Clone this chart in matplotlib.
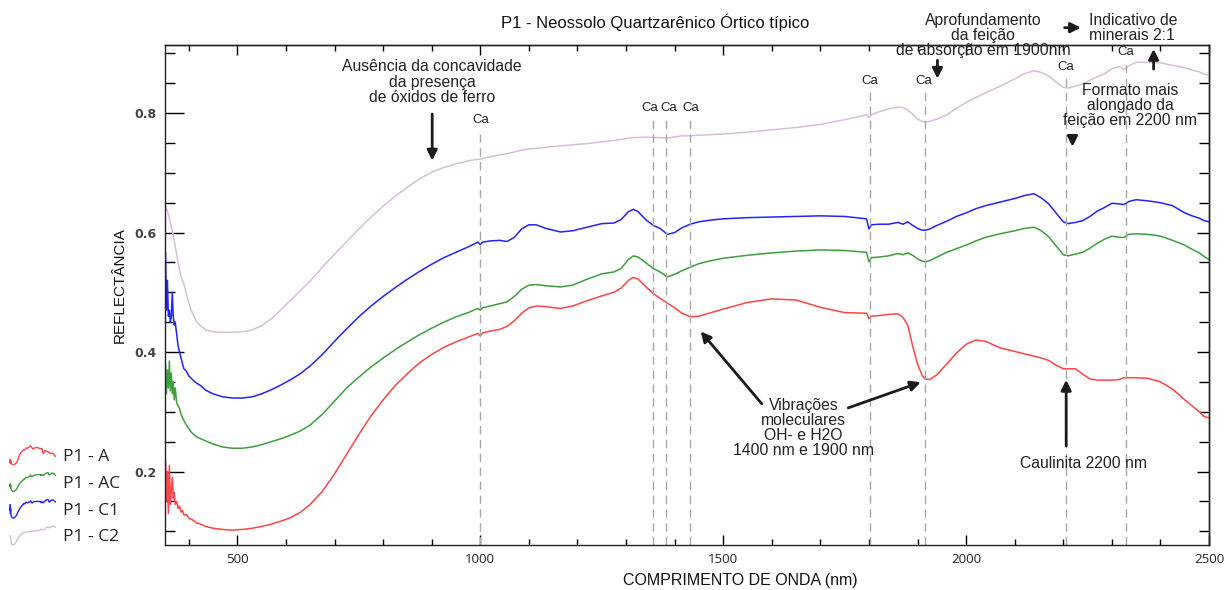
import numpy as np
import matplotlib
matplotlib.use('Agg')
import matplotlib.pyplot as plt
from matplotlib.ticker import MultipleLocator, NullFormatter
from matplotlib.legend_handler import HandlerBase
from matplotlib.lines import Line2D

plt.rcParams['font.family'] = ['Liberation Sans', 'DejaVu Sans']

# wavelength grid (nm)
wl = [350, 352, 354, 356, 358, 360, 362, 364, 366, 368, 370, 372, 375, 378, 381, 384, 387, 390,
      395, 400, 405, 410, 416, 424,
      435, 450, 470, 490, 510, 530, 550, 570, 590, 610, 630, 650, 675, 700, 725, 750, 775, 800,
      825, 850, 875, 900, 925, 950, 975, 995, 1000, 1005, 1020, 1040, 1055, 1070, 1085, 1100,
      1115, 1135, 1165, 1190, 1220, 1250, 1275, 1290, 1305, 1315, 1325, 1340, 1356, 1370, 1385,
      1400, 1415, 1432, 1450, 1475, 1500, 1550, 1600, 1650, 1700, 1750, 1795, 1800, 1805, 1820,
      1840, 1860, 1870, 1880, 1890, 1900, 1910, 1916, 1925, 1940, 1960, 1980, 2000, 2020, 2040,
      2070, 2100, 2120, 2140, 2155, 2170, 2185, 2200, 2210, 2225, 2240, 2255, 2270, 2285, 2300,
      2315, 2325, 2335, 2350, 2375, 2400, 2425, 2450, 2465, 2480, 2490, 2500]

p1_a = [0.14, 0.22, 0.15, 0.20, 0.13, 0.21, 0.145, 0.17, 0.19, 0.155, 0.165, 0.145, 0.15, 0.138,
        0.142, 0.132, 0.135, 0.127, 0.128, 0.122, 0.12, 0.118, 0.114, 0.112,
        0.108, 0.105, 0.103, 0.102, 0.103, 0.105, 0.108, 0.112, 0.117, 0.123, 0.132, 0.145, 0.167,
        0.196, 0.229, 0.262, 0.293, 0.32, 0.344, 0.364, 0.382, 0.396, 0.408, 0.417, 0.425, 0.431,
        0.427, 0.432, 0.435, 0.438, 0.443, 0.452, 0.465, 0.474, 0.477, 0.476, 0.473, 0.477, 0.486,
        0.494, 0.50, 0.507, 0.52, 0.525, 0.522, 0.51, 0.498, 0.49, 0.482, 0.474, 0.465, 0.459,
        0.46, 0.466, 0.472, 0.483, 0.489, 0.487, 0.475, 0.466, 0.465, 0.456, 0.46, 0.461, 0.463,
        0.464, 0.458, 0.445, 0.41, 0.38, 0.36, 0.355, 0.354, 0.362, 0.38, 0.398, 0.413, 0.42,
        0.418, 0.407, 0.401, 0.397, 0.393, 0.39, 0.386, 0.378, 0.372, 0.372, 0.372, 0.363, 0.355,
        0.353, 0.353, 0.353, 0.354, 0.357, 0.357, 0.357, 0.356, 0.35, 0.338, 0.32, 0.31, 0.30,
        0.292, 0.29]

p1_ac = [0.30, 0.38, 0.33, 0.37, 0.34, 0.385, 0.335, 0.365, 0.33, 0.35, 0.32, 0.34, 0.315, 0.31,
         0.305, 0.296, 0.29, 0.285, 0.278, 0.272, 0.266, 0.262, 0.258, 0.255,
         0.251, 0.246, 0.241, 0.239, 0.239, 0.241, 0.245, 0.25, 0.255, 0.261, 0.268, 0.278, 0.296,
         0.318, 0.34, 0.358, 0.375, 0.39, 0.404, 0.417, 0.429, 0.44, 0.45, 0.459, 0.466, 0.473,
         0.47, 0.474, 0.477, 0.481, 0.484, 0.493, 0.505, 0.512, 0.513, 0.511, 0.509, 0.512, 0.522,
         0.531, 0.534, 0.54, 0.555, 0.561, 0.559, 0.55, 0.54, 0.534, 0.526, 0.53, 0.536, 0.542,
         0.548, 0.553, 0.557, 0.562, 0.566, 0.569, 0.571, 0.57, 0.567, 0.551, 0.558, 0.559, 0.561,
         0.565, 0.563, 0.566, 0.562, 0.556, 0.552, 0.551, 0.553, 0.559, 0.567, 0.573, 0.579, 0.586,
         0.592, 0.598, 0.603, 0.607, 0.609, 0.603, 0.593, 0.578, 0.563, 0.561, 0.564, 0.567, 0.574,
         0.582, 0.589, 0.594, 0.592, 0.592, 0.597, 0.598, 0.597, 0.594, 0.587, 0.579, 0.572, 0.566,
         0.56, 0.555]

p1_c1 = [0.41, 0.567, 0.47, 0.52, 0.46, 0.47, 0.45, 0.46, 0.50, 0.46, 0.445, 0.45, 0.43, 0.41,
         0.40, 0.39, 0.38, 0.372, 0.368, 0.36, 0.356, 0.352, 0.348, 0.344,
         0.336, 0.33, 0.325, 0.323, 0.323, 0.325, 0.33, 0.337, 0.345, 0.354, 0.364, 0.377, 0.396,
         0.418, 0.439, 0.459, 0.477, 0.493, 0.508, 0.522, 0.535, 0.547, 0.558, 0.567, 0.576, 0.584,
         0.58, 0.584, 0.586, 0.587, 0.585, 0.592, 0.606, 0.613, 0.613, 0.607, 0.601, 0.603, 0.609,
         0.615, 0.616, 0.622, 0.635, 0.639, 0.635, 0.622, 0.612, 0.607, 0.597, 0.60, 0.608, 0.614,
         0.618, 0.621, 0.623, 0.625, 0.626, 0.627, 0.628, 0.627, 0.623, 0.606, 0.613, 0.614, 0.614,
         0.617, 0.614, 0.618, 0.612, 0.607, 0.604, 0.604, 0.606, 0.612, 0.619, 0.627, 0.633, 0.64,
         0.645, 0.651, 0.657, 0.662, 0.665, 0.658, 0.648, 0.633, 0.618, 0.615, 0.617, 0.62, 0.627,
         0.636, 0.642, 0.649, 0.648, 0.647, 0.652, 0.655, 0.653, 0.65, 0.645, 0.633, 0.628, 0.624,
         0.62, 0.618]

p1_c2 = [0.649, 0.645, 0.64, 0.636, 0.63, 0.624, 0.617, 0.61, 0.603, 0.595, 0.586, 0.577, 0.563,
         0.55, 0.537, 0.527, 0.52, 0.514, 0.497, 0.482, 0.47, 0.461, 0.451, 0.444,
         0.437, 0.434, 0.433, 0.433, 0.434, 0.437, 0.444, 0.456, 0.471, 0.487, 0.503, 0.519, 0.542,
         0.564, 0.585, 0.606, 0.626, 0.644, 0.661, 0.676, 0.69, 0.701, 0.709, 0.715, 0.72, 0.723,
         0.722, 0.724, 0.727, 0.73, 0.732, 0.735, 0.738, 0.74, 0.741, 0.743, 0.745, 0.747, 0.749,
         0.752, 0.754, 0.756, 0.758, 0.759, 0.759, 0.76, 0.759, 0.759, 0.758, 0.76, 0.762, 0.762,
         0.763, 0.764, 0.765, 0.768, 0.772, 0.776, 0.781, 0.789, 0.797, 0.793, 0.797, 0.802, 0.807,
         0.81, 0.809, 0.805, 0.798, 0.79, 0.786, 0.785, 0.786, 0.79, 0.797, 0.808, 0.818, 0.826,
         0.834, 0.845, 0.857, 0.866, 0.871, 0.868, 0.862, 0.852, 0.843, 0.842, 0.845, 0.849, 0.855,
         0.861, 0.866, 0.874, 0.878, 0.873, 0.879, 0.885, 0.885, 0.884, 0.88, 0.876, 0.872, 0.869,
         0.865, 0.864]

labels = ['P1 - A', 'P1 - AC', 'P1 - C1', 'P1 - C2']
colors = ['#ff4545', '#3d9e3d', '#2323ff', '#d8bedb']
series = [p1_a, p1_ac, p1_c1, p1_c2]

# Ca absorption marks
ca_wl = [1000, 1356, 1383, 1432, 1802, 1916, 2206, 2329]
ca_label_x = [1000, 1348, 1387, 1434, 1802, 1912, 2206, 2329]
ca_label_y = [0.788, 0.808, 0.808, 0.808, 0.854, 0.854, 0.877, 0.902]


class SpectrumHandler(HandlerBase):
    # legend icon = small copy of the spectrum
    def __init__(self, x, y):
        super().__init__()
        self.x = np.asarray(x, dtype=float)
        self.y = np.asarray(y, dtype=float)

    def create_artists(self, legend, orig_handle, xdescent, ydescent, width, height, fontsize, trans):
        xs = -xdescent + (self.x - self.x.min()) / (self.x.max() - self.x.min()) * width
        ys = -ydescent + (self.y - self.y.min()) / (self.y.max() - self.y.min()) * height * 1.3 - height * 0.15
        ln = Line2D(xs, ys, color=orig_handle.get_color(), lw=1.0)
        ln.set_transform(trans)
        return [ln]


fig = plt.figure(figsize=(12.25, 5.9), dpi=100)
ax = fig.add_axes([165 / 1225, 1 - 545 / 590, (1209 - 165) / 1225, 500 / 590])

handles = []
for s, c, lab in zip(series, colors, labels):
    ln, = ax.plot(wl, s, color=c, lw=1.1, label=lab)
    handles.append(ln)

ymin, ymax = 0.077, 0.914
ax.set_xlim(351, 2500)
ax.set_ylim(ymin, ymax)

for x, xl, yl in zip(ca_wl, ca_label_x, ca_label_y):
    ax.vlines(x, ymin, yl - 0.019, colors='#a8a8a8', linestyles=(0, (6, 4)), lw=1.0)
    ax.text(xl, yl, 'Ca', ha='center', va='center', fontsize=9.5, color='#222222')

arrow = dict(arrowstyle='-|>', lw=2.0, color='#1e1a1a', mutation_scale=15)
txt = dict(fontsize=11.3, color='#222222', ha='center', va='center', linespacing=1.02)

ax.text(901, 0.852, 'Ausência da concavidade\nda presença\nde óxidos de ferro', **txt)
ax.annotate('', xy=(901, 0.716), xytext=(901, 0.803), arrowprops=arrow)

ax.text(2035, 0.93, 'Aprofundamento\nda feição\nde absorção em 1900nm', **txt)
ax.annotate('', xy=(1941, 0.853), xytext=(1941, 0.893), arrowprops=arrow, annotation_clip=False)

ax.text(2252, 0.943, 'Indicativo de\nminerais 2:1', fontsize=11.3, color='#222222', ha='left',
        va='center', linespacing=1.02)
ax.annotate('', xy=(2242, 0.943), xytext=(2197, 0.943), arrowprops=arrow, annotation_clip=False)

ax.text(2338, 0.813, 'Formato mais\nalongado da\nfeição em 2200 nm', **txt)
ax.annotate('', xy=(2386, 0.912), xytext=(2386, 0.869), arrowprops=arrow, annotation_clip=False)
ax.annotate('', xy=(2219, 0.739), xytext=(2219, 0.765), arrowprops=arrow)

ax.text(1665, 0.273, 'Vibrações\nmoleculares\nOH- e H2O\n1400 nm e 1900 nm', **txt)
ax.annotate('', xy=(1450, 0.438), xytext=(1583, 0.31), arrowprops=arrow)
ax.annotate('', xy=(1912, 0.351), xytext=(1752, 0.305), arrowprops=arrow)

ax.text(2241, 0.214, 'Caulinita 2200 nm', **txt)
ax.annotate('', xy=(2206, 0.358), xytext=(2206, 0.238), arrowprops=arrow)

# ticks
ax.xaxis.set_major_locator(MultipleLocator(500))
ax.yaxis.set_major_locator(MultipleLocator(0.2))
ax.yaxis.set_minor_locator(MultipleLocator(0.05))
ax.xaxis.set_minor_locator(MultipleLocator(100))
ax.tick_params(axis='y', which='major', direction='in', length=14, width=1.0, labelsize=9, pad=6,
               labelcolor='#444444')
ax.tick_params(axis='y', which='minor', direction='in', length=7, width=1.0)
ax.tick_params(axis='x', which='major', direction='in', length=7, width=1.0, labelsize=9.5,
               pad=6, labelcolor='#222222')
ax.tick_params(axis='x', which='minor', direction='in', length=4, width=1.0)
for t in ax.get_yticklabels():
    t.set_fontweight('bold')
    t.set_family(['DejaVu Sans'])
for t in ax.get_xticklabels():
    t.set_family(['Open Sans', 'DejaVu Sans'])

top = ax.secondary_xaxis('top')
top.xaxis.set_major_locator(MultipleLocator(500))
top.xaxis.set_minor_locator(MultipleLocator(100))
top.xaxis.set_major_formatter(NullFormatter())
top.tick_params(which='major', direction='in', length=7, width=1.0)
top.tick_params(which='minor', direction='in', length=4, width=1.0)

right = ax.secondary_yaxis('right')
right.yaxis.set_major_locator(MultipleLocator(0.2))
right.yaxis.set_minor_locator(MultipleLocator(0.05))
right.yaxis.set_major_formatter(NullFormatter())
right.tick_params(which='major', direction='in', length=9, width=1.0)
right.tick_params(which='minor', direction='in', length=7, width=1.0)

for sp in list(ax.spines.values()) + [top.spines['top'], right.spines['right']]:
    sp.set_linewidth(1.0)
    sp.set_color('#222222')

fig.text(655 / 1225, 1 - 22 / 590, 'P1 - Neossolo Quartzarênico Órtico típico', ha='center',
         va='center', fontsize=12, color='#111111')
fig.text(740 / 1225, 1 - 580 / 590, 'COMPRIMENTO DE ONDA (nm)', ha='center', va='center',
         fontsize=11.5, color='#111111')
fig.text(120 / 1225, 1 - 285 / 590, 'REFLECTÂNCIA', ha='center', va='center', rotation=90,
         fontsize=11, color='#111111')

hmap = {h: SpectrumHandler(wl, s) for h, s in zip(handles, series)}
fig.legend(handles=handles, labels=labels, handler_map=hmap, loc='lower left',
           bbox_to_anchor=(-0.003, 0.052), frameon=False, handlelength=2.6, handleheight=0.9,
           labelspacing=0.55, handletextpad=0.45, borderpad=0.3,
           prop={'family': ['Open Sans', 'DejaVu Sans'], 'size': 12.5}, labelcolor='#222222')

fig.savefig('out.png', dpi=100)
